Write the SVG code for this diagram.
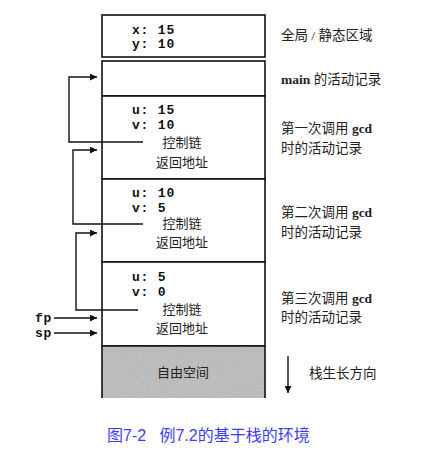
<svg xmlns="http://www.w3.org/2000/svg" width="448" height="452" viewBox="0 0 448 452">
<defs>
<marker id="ah" viewBox="0 0 10 10" refX="10" refY="5" markerWidth="10" markerHeight="7" markerUnits="userSpaceOnUse" orient="auto">
<path d="M0,0 L10,5 L0,10 z" fill="#111"/>
</marker>
<filter id="noise" x="0" y="0" width="1" height="1">
<feTurbulence type="fractalNoise" baseFrequency="0.9" numOctaves="2" seed="3" result="t"/>
<feColorMatrix in="t" type="matrix" values="0 0 0 0 0.45  0 0 0 0 0.45  0 0 0 0 0.45  0 0 0 2 -0.6" result="n"/>
<feComposite in="n" in2="SourceGraphic" operator="in" result="m"/>
<feMerge><feMergeNode in="SourceGraphic"/><feMergeNode in="m"/></feMerge>
</filter>
<style>
.box{fill:#fff;stroke:#111;stroke-width:1.6}
.mono{font-family:"Liberation Mono","DejaVu Sans Mono",monospace;font-weight:bold;font-size:13px;letter-spacing:0.8px;fill:#111}
.cn{font-family:"Liberation Serif","Noto Sans CJK SC",serif;font-size:13px;fill:#222}
.lbl{font-family:"Liberation Serif","Noto Sans CJK SC",serif;font-size:13.5px;fill:#222}
.b{font-weight:bold}
.conn{fill:none;stroke:#111;stroke-width:1.4}
.cap{font-family:"Liberation Sans","Noto Sans CJK SC",sans-serif;font-size:16px;fill:#3c3cff}
</style>
</defs>

<g id="global">
<rect class="box" x="102" y="15" width="163" height="42"/>
<text class="mono" x="132" y="34">x: 15</text>
<text class="mono" x="132" y="48">y: 10</text>
</g>
<g id="main">
<rect class="box" x="102" y="61" width="163" height="35"/>
</g>
<g id="gcd1">
<rect class="box" x="102" y="96" width="163" height="83"/>
<text class="mono" x="132" y="114">u: 15</text>
<text class="mono" x="132" y="129">v: 10</text>
<text class="cn" x="182" y="147" text-anchor="middle">控制链</text>
<text class="cn" x="182" y="167" text-anchor="middle">返回地址</text>
</g>
<g id="gcd2">
<rect class="box" x="102" y="179" width="163" height="83"/>
<text class="mono" x="132" y="197">u: 10</text>
<text class="mono" x="132" y="212">v: 5</text>
<text class="cn" x="182" y="228" text-anchor="middle">控制链</text>
<text class="cn" x="182" y="247" text-anchor="middle">返回地址</text>
</g>
<g id="gcd3">
<rect class="box" x="102" y="262" width="163" height="84"/>
<text class="mono" x="132" y="281">u: 5</text>
<text class="mono" x="132" y="296">v: 0</text>
<text class="cn" x="182" y="314" text-anchor="middle">控制链</text>
<text class="cn" x="182" y="333" text-anchor="middle">返回地址</text>
</g>
<g id="free">
<rect x="102" y="346" width="163" height="52" fill="#c2c2c2" filter="url(#noise)"/>
<path d="M102,346 H265 M102,346 V398 M265,346 V398" fill="none" stroke="#111" stroke-width="1.6"/>
<text class="cn" x="183" y="377" text-anchor="middle" fill="#222">自由空间</text>
</g>

<g id="connectors">
<path class="conn" d="M143,142 H69 V77 H97" marker-end="url(#ah)"/>
<path class="conn" d="M143,224 H73 V150 H97" marker-end="url(#ah)"/>
<path class="conn" d="M138,310 H76 V233 H97" marker-end="url(#ah)"/>
<path class="conn" d="M54,318 H97" marker-end="url(#ah)"/>
<path class="conn" d="M54,333 H97" marker-end="url(#ah)"/>
<path class="conn" d="M288,356 V393" marker-end="url(#ah)"/>
</g>

<g id="labels">
<text class="mono" x="35" y="322">fp</text>
<text class="mono" x="35" y="337">sp</text>
<text class="lbl" x="281" y="40">全局 / 静态区域</text>
<text class="lbl" x="281" y="84"><tspan class="b">main</tspan> 的活动记录</text>
<text class="lbl" x="281" y="133">第一次调用 <tspan class="b">gcd</tspan></text>
<text class="lbl" x="281" y="153">时的活动记录</text>
<text class="lbl" x="281" y="217">第二次调用 <tspan class="b">gcd</tspan></text>
<text class="lbl" x="281" y="237">时的活动记录</text>
<text class="lbl" x="281" y="303">第三次调用 <tspan class="b">gcd</tspan></text>
<text class="lbl" x="281" y="322">时的活动记录</text>
<text class="lbl" x="309" y="378">栈生长方向</text>
<text class="cap" x="107" y="441" xml:space="preserve">图7-2   例7.2的基于栈的环境</text>
</g>
</svg>
